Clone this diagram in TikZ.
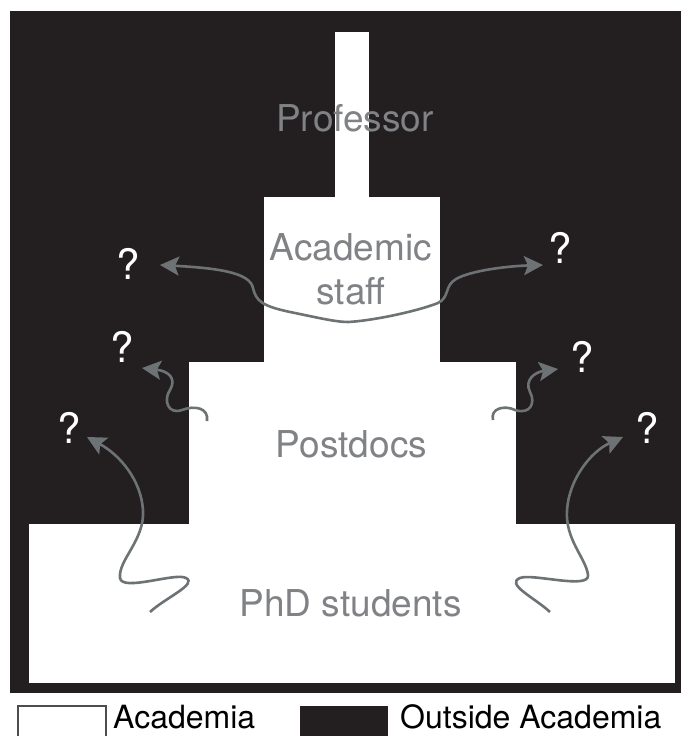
\documentclass[tikz,border=0pt]{standalone}
\usepackage{fontspec}
\setmainfont{TeX Gyre Heros}
\usetikzlibrary{positioning, arrows.meta}
\definecolor{nearblack}{RGB}{35,31,32}
\definecolor{labelgray}{RGB}{128,130,133}
\definecolor{arrowgray}{RGB}{109,114,116}
\tikzstyle{outside} = [rectangle, fill=nearblack, inner sep=0pt, outer sep=0pt]
\tikzstyle{academia} = [rectangle, fill=white, inner sep=0pt, outer sep=0pt]
\tikzstyle{rank} = [text=labelgray, inner sep=0pt, font=\fontsize{37}{44}\selectfont, align=center]
\tikzstyle{exit} = [text=white, inner sep=0pt, font=\fontsize{42}{50}\selectfont]
\tikzstyle{keytext} = [inner sep=0pt, anchor=base west, font=\fontsize{32}{38}\selectfont]
\tikzstyle{arrow} = [draw=arrowgray, line width=2.6pt, >={Stealth[length=19pt,width=19pt,inset=4pt]}, ->]

\begin{document}
\begin{tikzpicture}[x=1pt, y=-1pt]
\useasboundingbox (0,0) rectangle (681,736);

% Fondo y escalera
\node (outside) [outside, minimum width=671pt, minimum height=682pt] at (345.5,352) {};
\node (phd) [academia, minimum width=646pt, minimum height=159pt] at (352,603.5) {};
\node (postdocs) [academia, minimum width=327pt, minimum height=162pt, above=0pt of phd] {};
\node (staff) [academia, minimum width=176pt, minimum height=165pt, above=0pt of postdocs] {};
\node (prof) [academia, minimum width=34pt, minimum height=165pt, above=0pt of staff] {};

% Etiquetas
\node (proflabel) [rank, anchor=base] at (355,131) {Professor};
\node (stafflabel) [rank] at (351,269.5) {Academic\\staff};
\node (postdoclabel) [rank, anchor=base] at (351.5,457) {Postdocs};
\node (phdlabel) [rank, anchor=base] at (350.5,616) {PhD students};

% Salidas
\node (qstaffL) [exit] at (128,264) {?};
\node (qstaffR) [exit] at (560,248) {?};
\node (qpostL) [exit] at (122,347) {?};
\node (qpostR) [exit] at (582,357) {?};
\node (qphdL) [exit] at (69,428) {?};
\node (qphdR) [exit] at (647,428) {?};

\coordinate (tipstaffL) at (160,265);
\coordinate (tipstaffR) at (543,265);
\coordinate (frompostL) at (207,421);
\coordinate (tippostL) at (142,368);
\coordinate (frompostR) at (493,420);
\coordinate (tippostR) at (558,369);
\coordinate (fromphdL) at (150,612);
\coordinate (tipphdL) at (87,437);
\coordinate (fromphdR) at (550,612);
\coordinate (tipphdR) at (623,437);

% Flechas
\draw [arrow, <->] (tipstaffL) .. controls (215,268) and (250,272) .. (253,288)
  .. controls (256,301) and (262,306) .. (290,312)
  .. controls (315,317) and (335,322) .. (348,322)
  .. controls (370,321) and (415,312) .. (438,303)
  .. controls (450,297) and (444,286) .. (456,279)
  .. controls (472,270) and (510,266) .. (tipstaffR);
\draw [arrow] (frompostL) .. controls (209,408) and (195,405) .. (182,410)
  .. controls (168,415) and (163,400) .. (170,390)
  .. controls (177,378) and (168,371) .. (tippostL);
\draw [arrow] (frompostR) .. controls (490,408) and (505,405) .. (515,410)
  .. controls (530,415) and (536,403) .. (530,392)
  .. controls (524,380) and (535,372) .. (tippostR);
\draw [arrow] (fromphdL) .. controls (165,598) and (198,584) .. (186,578)
  .. controls (176,572) and (122,592) .. (120,578)
  .. controls (118,560) and (145,540) .. (143,510)
  .. controls (141,480) and (120,455) .. (tipphdL);
\draw [arrow] (fromphdR) .. controls (535,598) and (505,584) .. (520,578)
  .. controls (532,573) and (590,590) .. (588,575)
  .. controls (586,558) and (565,540) .. (567,510)
  .. controls (569,480) and (590,452) .. (tipphdR);

% Leyenda
\node (acadkey) [draw=nearblack!80, line width=1.2pt, fill=white, inner sep=0pt, minimum width=88pt, minimum height=40pt] at (62,726) {};
\node (acadtext) [keytext] at (113,728) {Academia};
\node (outkey) [outside, minimum width=88pt, minimum height=40pt] at (344,726) {};
\node (outtext) [keytext] at (400,728) {Outside Academia};

\end{tikzpicture}
\end{document}
